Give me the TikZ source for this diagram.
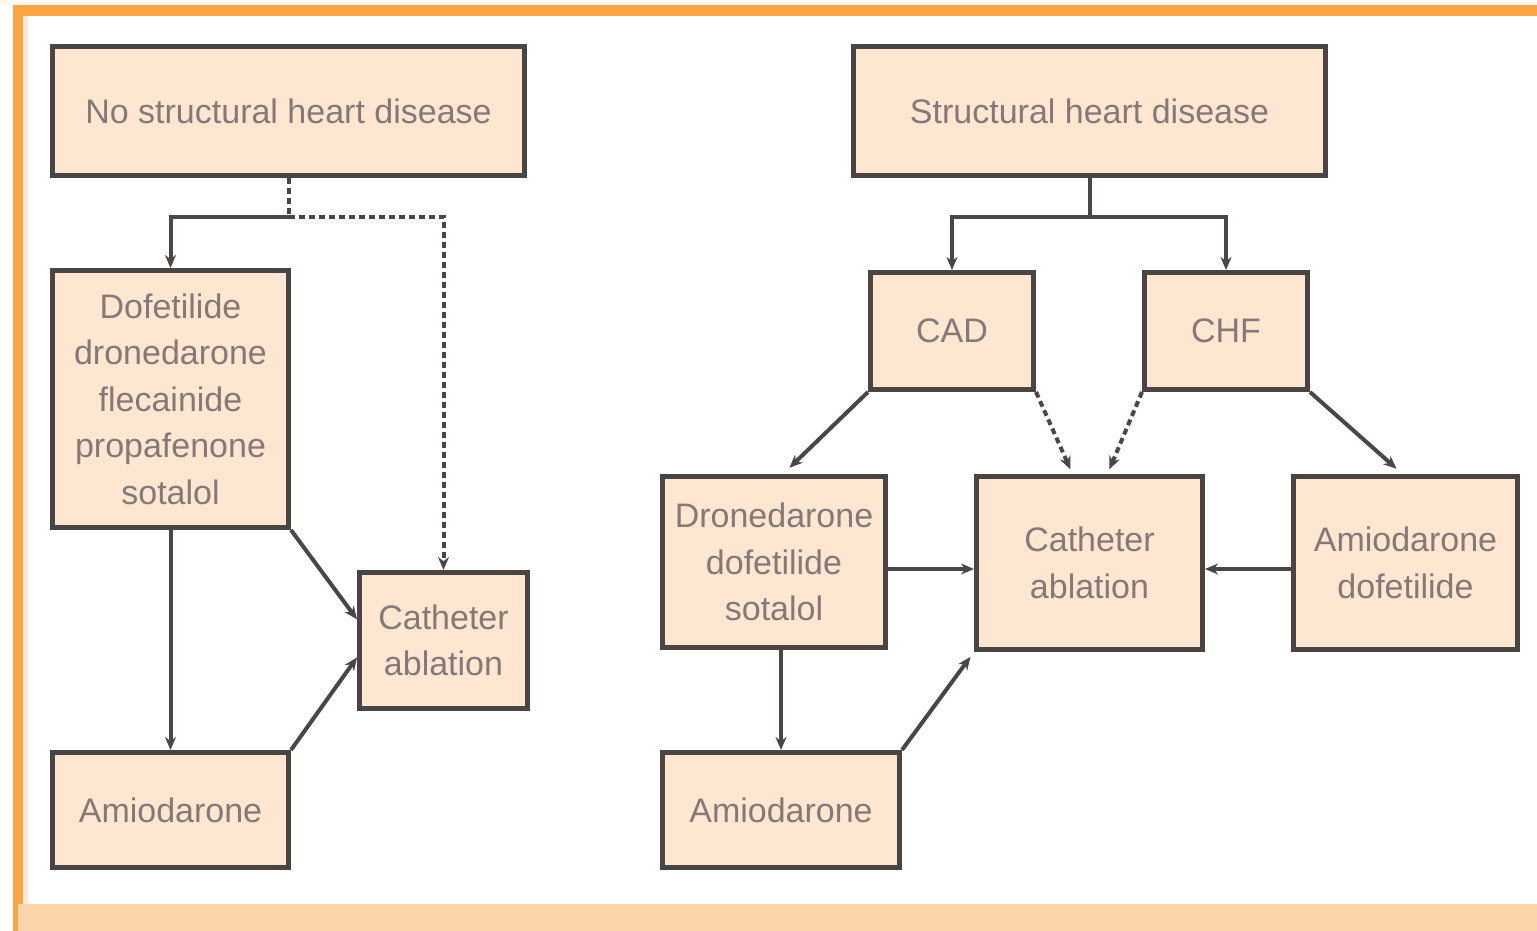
\documentclass[tikz,border=0pt]{standalone}
\usepackage{fontspec}
\setmainfont{Liberation Sans}
\usetikzlibrary{arrows.meta,calc}
\definecolor{frameor}{HTML}{F9A643}
\definecolor{bandor}{HTML}{FCD5AA}
\definecolor{paleor}{HTML}{FDEBD8}
\definecolor{creamtop}{HTML}{FEF8F0}
\definecolor{boxfill}{HTML}{FDE7D0}
\definecolor{boxline}{HTML}{4A4442}
\definecolor{txt}{HTML}{867878}
\definecolor{conn}{HTML}{4A4646}
\begin{document}
\begin{tikzpicture}[x=1pt,y=-1pt,
  box/.style={draw=boxline, line width=5pt, fill=boxfill, text=txt, align=center,
    inner sep=0pt, font=\fontsize{34}{46.5}\selectfont},
  conline/.style={draw=conn, line width=4pt},
  arr/.style={conline, -{Stealth[length=13pt,width=11pt]}},
  dsh/.style={dash pattern=on 6pt off 4pt},
]
\useasboundingbox (0,0) rectangle (1537,931);
% frame
\fill[white] (0,0) rectangle (1537,931);
\fill[creamtop] (0,0) rectangle (1537,5);
\fill[frameor] (13,5) rectangle (1537,16);
\fill[frameor] (13,5) rectangle (18,931);
\fill[frameor] (18,16) rectangle (23,904);
\fill[paleor] (23,16) rectangle (28,904);
\fill[bandor] (18,904) rectangle (1537,931);

% left diagram
\node[box, minimum width=472pt, minimum height=129pt] (b1) at (288.5,111) {No structural heart disease};
\node[box, minimum width=236pt, minimum height=257pt] (dofet) at (170.5,399)
  {Dofetilide\\dronedarone\\flecainide\\propafenone\\sotalol};
\node[box, minimum width=236pt, minimum height=115pt] (amioL) at (170.5,810) {Amiodarone};
\node[box, minimum width=168pt, minimum height=136pt] (cathL) at (443.5,640.5) {Catheter\\ablation};

% right diagram
\node[box, minimum width=472pt, minimum height=129pt] (b5) at (1089.5,111) {Structural heart disease};
\node[box, minimum width=163pt, minimum height=117pt] (cad) at (952,331) {CAD};
\node[box, minimum width=163pt, minimum height=117pt] (chf) at (1226,331) {CHF};
\node[box, minimum width=223pt, minimum height=171pt] (drone) at (774,562)
  {Dronedarone\\dofetilide\\sotalol};
\node[box, minimum width=226pt, minimum height=173pt] (cathR) at (1089.5,563) {Catheter\\ablation};
\node[box, minimum width=224pt, minimum height=173pt] (amdof) at (1405.5,563) {Amiodarone\\dofetilide};
\node[box, minimum width=237pt, minimum height=115pt] (amioR) at (781,810) {Amiodarone};

% helper coordinates
\coordinate (splitL) at (288.5,217);
\coordinate (splitR) at (1089.5,217);
\coordinate (rowR) at (0,569);
\coordinate (cathLa) at ($(cathL.north west)!0.35!(cathL.south west)$);
\coordinate (cathLb) at ($(cathL.north west)!0.62!(cathL.south west)$);

% left connectors
\draw[conline, dsh] (b1.south) -- (splitL);
\draw[arr] (splitL) -- (splitL -| dofet.north) -- (dofet.north);
\draw[arr, dsh] (splitL) -- (splitL -| cathL.north) -- (cathL.north);
\draw[arr] (dofet.south) -- (amioL.north);
\draw[arr] (dofet.south east) -- (cathLa);
\draw[arr] (amioL.north east) -- (cathLb);

% right connectors
\draw[conline] (b5.south) -- (splitR);
\draw[arr] (splitR) -- (splitR -| cad.north) -- (cad.north);
\draw[arr] (splitR) -- (splitR -| chf.north) -- (chf.north);
\draw[arr, shorten >=9pt] (cad.south west) -- ($(drone.north)+(9,0)$);
\draw[arr, dsh, shorten >=5pt] (cad.south east) -- ($(cathR.north)+(-17,0)$);
\draw[arr, dsh, shorten >=5pt] (chf.south west) -- ($(cathR.north)+(18,0)$);
\draw[arr, shorten >=8pt] (chf.south east) -- ($(amdof.north)+(-3,0)$);
\draw[arr] (drone.east |- rowR) -- (cathR.west |- rowR);
\draw[arr] (amdof.west |- rowR) -- (cathR.east |- rowR);
\draw[arr] (drone.south -| amioR.north) -- (amioR.north);
\draw[arr, shorten >=6pt] (amioR.north east) -- (cathR.south west);
\end{tikzpicture}
\end{document}
